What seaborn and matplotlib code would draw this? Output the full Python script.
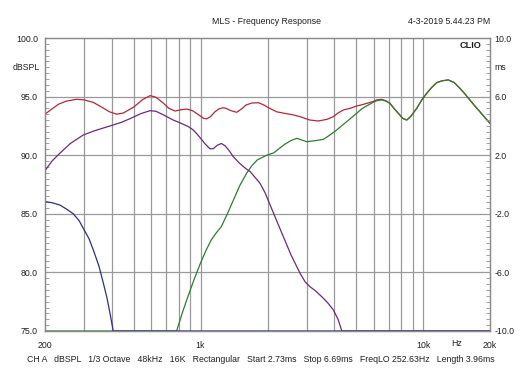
import numpy as np
import pandas as pd
import matplotlib
matplotlib.use("Agg")
import matplotlib.pyplot as plt
from matplotlib.ticker import FixedLocator, MultipleLocator, NullFormatter
import seaborn as sns

# ---------------- data ----------------
red_f = [200, 215, 230, 250, 277, 300, 330, 360, 390, 420, 450, 500, 550, 593, 630,
         680, 720, 768, 820, 867, 920, 980, 1030, 1066, 1110, 1160, 1210, 1265, 1310,
         1360, 1454, 1530, 1600, 1700, 1819, 1920, 2017, 2200, 2440, 2600, 2800, 3100,
         3385, 3700, 3953, 4150, 4384, 4700, 5035, 5300, 5600, 5950, 6200, 6500, 6800,
         7100, 7400, 7740, 8100, 8444, 8800, 9370, 9900, 10390, 10900, 11520, 12200,
         13000, 13800, 14660, 15400, 16260, 17100, 18030, 19000, 20000]
red_db = [93.5, 93.95, 94.35, 94.62, 94.77, 94.72, 94.5, 94.1, 93.7, 93.5, 93.6, 94.1,
          94.75, 95.08, 94.95, 94.45, 94.0, 93.77, 93.88, 93.94, 93.8, 93.45, 93.15,
          93.1, 93.3, 93.7, 93.95, 94.05, 93.98, 93.82, 93.66, 93.95, 94.28, 94.45,
          94.48, 94.3, 94.06, 93.7, 93.54, 93.45, 93.29, 93.0, 92.92, 93.06, 93.29,
          93.6, 93.86, 94.0, 94.2, 94.3, 94.43, 94.57, 94.72, 94.77, 94.65, 94.43,
          94.0, 93.58, 93.15, 93.0, 93.3, 94.0, 94.75, 95.28, 95.75, 96.19, 96.35,
          96.42, 96.2, 95.7, 95.25, 94.7, 94.2, 93.7, 93.2, 92.72]

green_f = [200, 781, 830, 880, 940, 1000, 1060, 1120, 1180, 1240, 1320, 1400, 1500,
           1612, 1700, 1800, 1984, 2134, 2250, 2400, 2550, 2706, 2850, 3003, 3300,
           3563, 3800, 4093, 4300, 4538, 4800, 5035, 5300, 5600, 5950, 6200, 6500,
           6800, 7100, 7400, 7740, 8100, 8444, 8800, 9370, 9900, 10390, 10900, 11520,
           12200, 13000, 13800, 14660, 15400, 16260, 17100, 18030, 19000, 20000]
green_db = [75.0, 75.0, 76.6, 78.0, 79.5, 80.8, 81.9, 82.8, 83.4, 83.9, 85.0, 86.1,
            87.4, 88.46, 89.1, 89.6, 90.0, 90.2, 90.55, 90.95, 91.25, 91.44, 91.3,
            91.15, 91.25, 91.35, 91.7, 92.15, 92.5, 92.86, 93.25, 93.58, 93.95, 94.22,
            94.5, 94.65, 94.72, 94.62, 94.43, 94.0, 93.58, 93.15, 93.0, 93.3, 94.0,
            94.75, 95.28, 95.75, 96.19, 96.35, 96.42, 96.2, 95.7, 95.25, 94.7, 94.2,
            93.7, 93.2, 92.72]

blue_f = [200, 215, 233, 250, 268, 285, 297, 315, 330, 350, 366, 380, 392, 400, 405,
          20000]
blue_db = [86.04, 85.95, 85.75, 85.4, 85.0, 84.4, 83.77, 82.9, 81.9, 80.5, 79.07, 77.8,
           76.5, 75.6, 75.0, 75.0]

purple_f = [200, 215, 233, 260, 297, 330, 370, 405, 440, 480, 540, 593, 630, 680, 754,
            800, 838, 880, 928, 970, 1000, 1050, 1102, 1140, 1190, 1240, 1290, 1350,
            1404, 1500, 1600, 1671, 1760, 1850, 1950, 2055, 2200, 2356, 2550, 2800,
            2950, 3104, 3300, 3563, 3750, 3953, 4150, 4250, 4312, 20000]
purple_db = [88.68, 89.5, 90.16, 91.0, 91.72, 92.05, 92.35, 92.58, 92.8, 93.1, 93.55,
             93.8, 93.75, 93.45, 93.0, 92.8, 92.63, 92.45, 92.15, 91.75, 91.45, 90.95,
             90.55, 90.55, 90.85, 91.0, 90.8, 90.35, 89.87, 89.3, 88.85, 88.6, 88.1,
             87.6, 86.8, 85.75, 84.4, 83.05, 81.5, 79.93, 79.2, 78.78, 78.4, 77.8,
             77.35, 76.8, 76.0, 75.4, 75.0, 75.0]

x_ticks = [200, 1000, 10000, 20000]
x_tick_labels = ["200", "1k", "10k", "20k"]
y_ticks = [75, 80, 85, 90, 95, 100]
y_tick_labels = ["75.0", "80.0", "85.0", "90.0", "95.0", "100.0"]
y2_ticks = [-10, -6, -2, 2, 6, 10]
y2_tick_labels = ["-10.0", "-6.0", "-2.0", "2.0", "6.0", "10.0"]

title = "MLS - Frequency Response"
stamp = "4-3-2019 5.44.23 PM"
footer = ("CH A   dBSPL   1/3 Octave   48kHz   16K   Rectangular   Start 2.73ms   "
          "Stop 6.69ms   FreqLO 252.63Hz   Length 3.96ms")

# ---------------- plot ----------------
sns.set_style("white")
plt.rcParams['font.family'] = ['Liberation Sans', 'DejaVu Sans']

W, H = 524, 377
fs = 6.3
txtc = "#202020"
fig = plt.figure(figsize=(W / 100, H / 100), dpi=100)
ax = fig.add_axes([45 / W, 1 - 331 / H, (490 - 45) / W, (331 - 38) / H])

gridc = "#999999"
ax.set_xscale("log")
ax.set_xlim(200, 20000)
ax.set_ylim(75, 100)

grid_x = [300, 400, 500, 600, 700, 800, 900, 1000, 2000, 3000, 4000, 5000, 6000,
          7000, 8000, 9000, 10000]
for gx in grid_x:
    ax.axvline(gx, color=gridc, lw=0.9, zorder=0)
for gy in [80, 85, 90, 95]:
    ax.axhline(gy, color=gridc, lw=0.9, zorder=0)

lw = 0.9
sns.lineplot(x=red_f, y=red_db, ax=ax, color="#b5273a", lw=lw, zorder=3)
sns.lineplot(x=green_f, y=green_db, ax=ax, color="#2f7d2f", lw=lw, zorder=4)
sns.lineplot(x=blue_f, y=blue_db, ax=ax, color="#2b2f8f", lw=lw, zorder=5)
sns.lineplot(x=purple_f, y=purple_db, ax=ax, color="#6b2a78", lw=lw, zorder=6)

ax.xaxis.set_major_locator(FixedLocator(x_ticks))
ax.set_xticklabels(x_tick_labels)
ax.xaxis.set_minor_locator(FixedLocator([]))
ax.xaxis.set_minor_formatter(NullFormatter())
ax.tick_params(axis="x", length=0, labelsize=fs, pad=7, colors=txtc)

ax.set_yticks(y_ticks)
ax.set_yticklabels(y_tick_labels)
ax.yaxis.set_minor_locator(MultipleLocator(0.5))
ax.tick_params(axis="y", which="major", length=0, labelsize=fs, pad=5, colors=txtc)
ax.tick_params(axis="y", which="minor", direction="in", length=3, color="#909090", width=0.6)
ax.set_xlabel("")
ax.set_ylabel("")

ax2 = ax.twinx()
ax2.set_ylim(-10, 10)
ax2.set_yticks(y2_ticks)
ax2.set_yticklabels(y2_tick_labels)
ax2.yaxis.set_minor_locator(MultipleLocator(0.4))
ax2.tick_params(axis="y", which="major", length=0, labelsize=fs, pad=3, colors=txtc)
ax2.tick_params(axis="y", which="minor", direction="in", length=3, color="#909090", width=0.6)

for a in (ax, ax2):
    for s in a.spines.values():
        s.set_color("#8a8a8a")
        s.set_linewidth(0.9)

fig.text(266 / W, 1 - 21 / H, title, ha="center", va="center", fontsize=fs, color=txtc)
fig.text(490 / W, 1 - 21 / H, stamp, ha="right", va="center", fontsize=fs, color=txtc)
fig.text(482 / W, 1 - 46 / H, "CLIO", ha="right", va="center", fontsize=fs + 0.3,
         fontweight="bold", color=txtc)
fig.text(40 / W, 1 - 67 / H, "dBSPL", ha="right", va="center", fontsize=fs, color=txtc)
fig.text(494 / W, 1 - 67 / H, "ms", ha="left", va="center", fontsize=fs, color=txtc)
fig.text(457 / W, 1 - 344 / H, "Hz", ha="center", va="center", fontsize=fs, color=txtc)
fig.text(261 / W, 1 - 360 / H, footer, ha="center", va="center", fontsize=fs, color=txtc)

fig.savefig("out.png", dpi=100, facecolor="white")
